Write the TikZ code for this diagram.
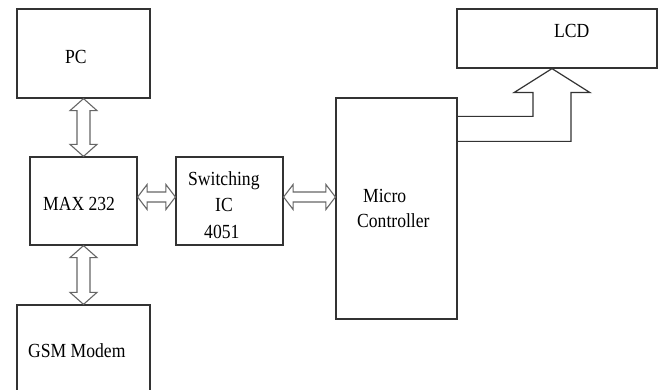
\documentclass[tikz,border=0pt]{standalone}
\usepackage{fontspec}
\setmainfont{Liberation Serif}[FakeStretch=0.88]
\usetikzlibrary{calc}

\tikzset{
  box/.style={draw=black!80, line width=1.2pt, inner sep=0pt, fill=white},
  lbl/.style={anchor=base west, inner sep=0pt, font=\fontsize{20}{24}\selectfont, text=black},
  dbl/.style={draw=black!60, line width=1.1pt, line join=miter, fill=white},
  bus/.style={draw=black!80, line width=1.2pt, line join=miter},
}

% hollow double arrow between a top point and a bottom point
\newcommand\vdbl[2]{%
  \draw[dbl] (#1) -- ($(#1)+(13.5,12)$) -- ($(#1)+(6.5,12)$) -- ($(#2)+(6.5,-12)$)
    -- ($(#2)+(13.5,-12)$) -- (#2) -- ($(#2)+(-13.5,-12)$) -- ($(#2)+(-6.5,-12)$)
    -- ($(#1)+(-6.5,12)$) -- ($(#1)+(-13.5,12)$) -- cycle;}
% hollow double arrow between a left point and a right point
\newcommand\hdbl[2]{%
  \draw[dbl] (#1) -- ($(#1)+(9.5,-12.5)$) -- ($(#1)+(9.5,-5)$) -- ($(#2)+(-9.5,-5)$)
    -- ($(#2)+(-9.5,-12.5)$) -- (#2) -- ($(#2)+(-9.5,12.5)$) -- ($(#2)+(-9.5,5)$)
    -- ($(#1)+(9.5,5)$) -- ($(#1)+(9.5,12.5)$) -- cycle;}

\begin{document}
\begin{tikzpicture}[x=1pt, y=-1pt]
  \useasboundingbox (0,0) rectangle (662,390);
  \clip (0,0) rectangle (662,390);
  \fill[white] (0,0) rectangle (662,390);

  % blocks
  \node[box, minimum width=133pt, minimum height=89pt]  (pc)    at (83.5,53.5)  {};
  \node[box, minimum width=107pt, minimum height=88pt]  (max)   at (83.5,201)   {};
  \node[box, minimum width=133pt, minimum height=100pt] (gsm)   at (83.5,355)   {};
  \node[box, minimum width=107pt, minimum height=88pt]  (sw)    at (229.5,201)  {};
  \node[box, minimum width=121pt, minimum height=221pt] (mcu)   at (396.5,208.5){};
  \node[box, minimum width=200pt, minimum height=59pt]  (lcd)   at (557,38.5)   {};

  % labels
  \node[lbl] (tpc)   at (65,64)   {PC};
  \node[lbl] (tmax)  at (43,211)  {MAX 232};
  \node[lbl] (tsw1)  at (188,186) {Switching};
  \node[lbl] (tsw2)  at (215,212) {IC};
  \node[lbl] (tsw3)  at (204,239) {4051};
  \node[lbl] (tmc1)  at (363,203) {Micro};
  \node[lbl] (tmc2)  at (357,228) {Controller};
  \node[lbl] (tlcd)  at (554,38)  {LCD};
  \node[lbl] (tgsm)  at (28,358)  {GSM Modem};

  % serial links
  \vdbl{pc.south}{max.north}
  \vdbl{max.south}{gsm.north}
  \coordinate (h1) at ($(max.east)+(0,-4)$);
  \coordinate (h2) at (h1 -| sw.west);
  \coordinate (h3) at (h1 -| sw.east);
  \coordinate (h4) at (h1 -| mcu.west);
  \hdbl{h1}{h2}
  \hdbl{h3}{h4}

  % data bus to the display
  \coordinate (tip) at ($(lcd.south)+(-5,0)$);
  \draw[bus] ($(mcu.north east)+(0,19)$) -| ($(tip)+(-19,24)$) -- ($(tip)+(-38,24)$)
    -- (tip) -- ($(tip)+(38,24)$) -- ($(tip)+(19,24)$) |- ($(mcu.north east)+(0,44)$);
\end{tikzpicture}
\end{document}
